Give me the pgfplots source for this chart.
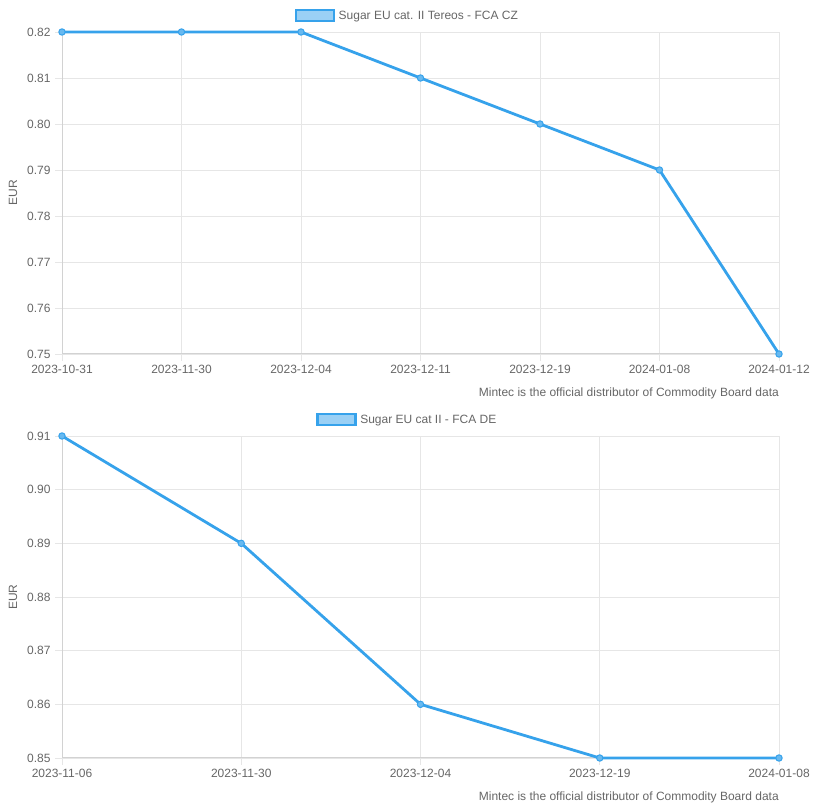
\documentclass[border=0pt]{standalone}
\usepackage{fontspec}
\setmainfont{Liberation Sans}
\usepackage{pgfplots}
\pgfplotsset{compat=1.18}
\definecolor{lineblue}{HTML}{36A2EB}
\definecolor{fillblue}{HTML}{9AD0F5}
\definecolor{txt}{HTML}{666666}
\definecolor{gridc}{HTML}{E6E6E6}
\definecolor{axisc}{HTML}{D2D2D2}
\pgfplotsset{
  mystyle/.style={
    scale only axis,
    width=717bp, height=322bp,
    anchor=south west,
    axis lines=left,
    axis line style={-, draw=axisc, line width=1bp},
    grid=major,
    major grid style={draw=gridc, line width=0.8bp},
    tick align=outside,
    major tick length=7bp,
    tick style={draw=gridc, line width=0.8bp},
    xtick=data,
    ticklabel style={font=\fontsize{12bp}{14bp}\selectfont, text=txt},
    /pgf/number format/assume math mode=true,
    yticklabel={\pgfmathprintnumber[fixed, fixed zerofill, precision=2]{\tick}},
    yticklabel style={xshift=-1bp},
    xticklabel style={yshift=-1bp},
    clip=false,
    legend style={draw=none, fill=none, font=\fontsize{12bp}{14bp}\selectfont, text=txt,
      legend cell align=left, inner sep=0pt, nodes={inner xsep=3.5bp}},
    legend image code/.code={\draw[fill=fillblue, draw=lineblue, line width=2.5bp] (0bp,-5bp) rectangle (38bp,6bp);},
    ylabel={EUR},
    ylabel style={font=\fontsize{12bp}{14bp}\selectfont, text=txt, at={(axis description cs:-0.0683,0.5)}, anchor=center, rotate=0},
  },
  myline/.style={draw=lineblue, line width=2.8bp, mark=*, mark size=3.2bp,
    mark options={fill=lineblue!75!white, draw=lineblue, line width=1bp}},
}
\begin{document}
\begin{tikzpicture}
\path[use as bounding box] (0,0) rectangle (820bp,808bp);
% top chart
\begin{axis}[mystyle,
  at={(62bp,454bp)},
  xmin=0, xmax=6, ymin=0.75, ymax=0.82,
  ytick={0.75,0.76,0.77,0.78,0.79,0.80,0.81,0.82},
  xticklabels={2023-10-31,2023-11-30,2023-12-04,2023-12-11,2023-12-19,2024-01-08,2024-01-12},
  legend style={at={(0.4826,1)}, anchor=center, yshift=16bp},
]
\addplot[myline] coordinates {(0,0.82) (1,0.82) (2,0.82) (3,0.81) (4,0.80) (5,0.79) (6,0.75)};
\addlegendentry{Sugar EU cat. II Tereos - FCA CZ}
\node[anchor=east, font=\fontsize{12bp}{14bp}\selectfont, text=txt, inner sep=0pt] at (axis description cs:1,-0.121) {Mintec is the official distributor of Commodity Board data};
\end{axis}
% bottom chart
\begin{axis}[mystyle,
  at={(62bp,50bp)},
  xmin=0, xmax=4, ymin=0.85, ymax=0.91,
  ytick={0.85,0.86,0.87,0.88,0.89,0.90,0.91},
  xticklabels={2023-11-06,2023-11-30,2023-12-04,2023-12-19,2024-01-08},
  legend style={at={(0.4826,1)}, anchor=center, yshift=16bp},
]
\addplot[myline] coordinates {(0,0.91) (1,0.89) (2,0.86) (3,0.85) (4,0.85)};
\addlegendentry{Sugar EU cat II - FCA DE}
\node[anchor=east, font=\fontsize{12bp}{14bp}\selectfont, text=txt, inner sep=0pt] at (axis description cs:1,-0.121) {Mintec is the official distributor of Commodity Board data};
\end{axis}
\end{tikzpicture}
\end{document}
